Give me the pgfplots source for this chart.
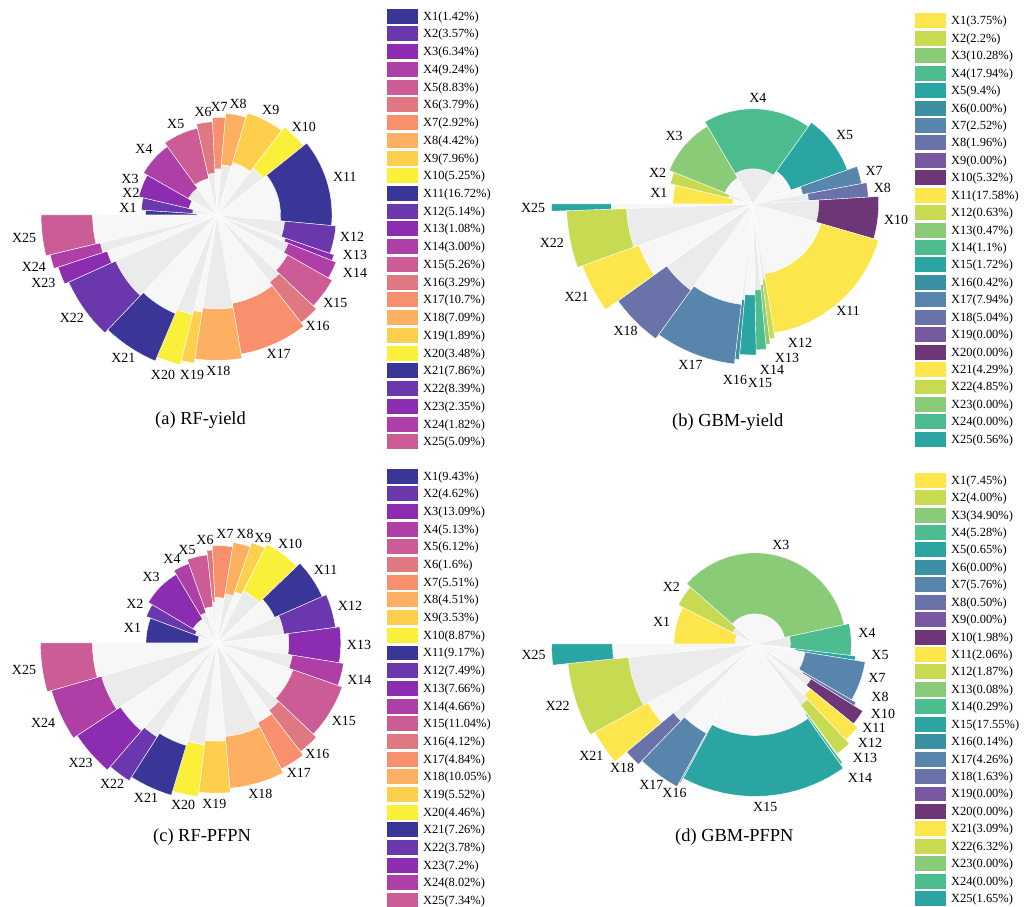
\documentclass[border=0pt]{standalone}
\usepackage{fontspec}
\setmainfont{Liberation Serif}
\usepackage{pgfplots}
\usepackage{pgfplotstable}
\pgfplotsset{compat=1.18}

% plasma-like palette (RF models)
\definecolor{rf0}{HTML}{3A3698}
\definecolor{rf1}{HTML}{6B37AD}
\definecolor{rf2}{HTML}{8C2DB1}
\definecolor{rf3}{HTML}{AE3FA6}
\definecolor{rf4}{HTML}{CB5C95}
\definecolor{rf5}{HTML}{E07882}
\definecolor{rf6}{HTML}{F88F6D}
\definecolor{rf7}{HTML}{FDB061}
\definecolor{rf8}{HTML}{FECF4C}
\definecolor{rf9}{HTML}{FAF03A}
% viridis-like palette (GBM models)
\definecolor{gb0}{HTML}{FDE64B}
\definecolor{gb1}{HTML}{C7DA51}
\definecolor{gb2}{HTML}{89CB77}
\definecolor{gb3}{HTML}{4DBC8E}
\definecolor{gb4}{HTML}{2AA5A1}
\definecolor{gb5}{HTML}{3B90A4}
\definecolor{gb6}{HTML}{5785AB}
\definecolor{gb7}{HTML}{6A72AA}
\definecolor{gb8}{HTML}{7758A1}
\definecolor{gb9}{HTML}{6E3677}
\definecolor{wedgeodd}{HTML}{F7F7F7}
\definecolor{wedgeeven}{HTML}{EBEBEB}

% relative importance (%) of X1 ... X25;
% lx, ly: label position for crowded segments (auto = outside the segment)
\pgfplotstableread{
val lx ly
1.42 -89 7
3.57 -86 22
6.34 -87 36
9.24 auto auto
8.83 auto auto
3.79 auto auto
2.92 auto auto
4.42 auto auto
7.96 auto auto
5.25 auto auto
16.72 auto auto
5.14 135 -22
1.08 138 -40
3.00 138 -58
5.26 auto auto
3.29 auto auto
10.7 auto auto
7.09 auto auto
1.89 -25 -160
3.48 -54 -160
7.86 auto auto
8.39 auto auto
2.35 auto auto
1.82 auto auto
5.09 auto auto
}\rfyield
\pgfplotstableread{
val lx ly
3.75 auto auto
2.2 auto auto
10.28 auto auto
17.94 auto auto
9.4 auto auto
0.00 auto auto
2.52 auto auto
1.96 auto auto
0.00 auto auto
5.32 auto auto
17.58 auto auto
0.63 47 -139
0.47 34 -154
1.1 19 -166
1.72 7 -179
0.42 -18 -176
7.94 auto auto
5.04 auto auto
0.00 auto auto
0.00 auto auto
4.29 auto auto
4.85 auto auto
0.00 auto auto
0.00 auto auto
0.56 auto auto
}\gbmyield
\pgfplotstableread{
val lx ly
9.43 auto auto
4.62 auto auto
13.09 auto auto
5.13 -45 84
6.12 -30 93
1.6 -12 103
5.51 8 109
4.51 28 109
3.53 46 105
8.87 auto auto
9.17 auto auto
7.49 auto auto
7.66 auto auto
4.66 auto auto
11.04 auto auto
4.12 auto auto
4.84 auto auto
10.05 auto auto
5.52 auto auto
4.46 auto auto
7.26 auto auto
3.78 auto auto
7.2 auto auto
8.02 auto auto
7.34 auto auto
}\rfpfpn
\pgfplotstableread{
val lx ly
7.45 auto auto
4.00 auto auto
34.90 auto auto
5.28 112 11
0.65 125 -11
0.00 auto auto
5.76 122 -34
0.50 125 -53
0.00 auto auto
1.98 128 -70
2.06 119 -84
1.87 115 -99
0.08 110 -114
0.29 105 -134
17.55 auto auto
0.14 auto auto
4.26 auto auto
1.63 auto auto
0.00 auto auto
0.00 auto auto
3.09 auto auto
6.32 auto auto
0.00 auto auto
0.00 auto auto
1.65 auto auto
}\gbmpfpn

% annular sector: #2,#3 start/end angle, #4 inner radius, #5 outer radius
\newcommand\sector[5][]{%
  \addplot[draw=white, line width=0.4pt, #1]
  ({((((\t<20.5)||(\t>41.5)) ? (#5) : (#4)))*cos(((\t<20.5) ? ((#2)+((#3)-(#2))*\t/20) : ((\t<41.5) ? ((#3)-((#3)-(#2))*(\t-21)/20) : (#2))))},
   {((((\t<20.5)||(\t>41.5)) ? (#5) : (#4)))*sin(((\t<20.5) ? ((#2)+((#3)-(#2))*\t/20) : ((\t<41.5) ? ((#3)-((#3)-(#2))*(\t-21)/20) : (#2))))});
}

\def\autostr{auto}
% spiral rose: #1 table, #2 palette, #3 base radius, #4 radial step, #5 bar length
\newcommand\rose[5]{%
  \pgfplotstablegetrowsof{#1}\edef\nrows{\pgfplotsretval}%
  \gdef\tot{0}%
  \pgfplotsforeachungrouped \i in {1,...,\nrows}{%
    \pgfmathtruncatemacro\row{\i-1}%
    \pgfplotstablegetelem{\row}{val}\of{#1}%
    \pgfmathparse{\tot+\pgfplotsretval}\xdef\tot{\pgfmathresult}%
  }%
  \gdef\cum{0}%
  \pgfplotsforeachungrouped \i in {1,...,\nrows}{%
    \pgfmathtruncatemacro\row{\i-1}%
    \pgfplotstablegetelem{\row}{val}\of{#1}\edef\val{\pgfplotsretval}%
    \pgfplotstablegetelem{\row}{lx}\of{#1}\edef\lxv{\pgfplotsretval}%
    \pgfplotstablegetelem{\row}{ly}\of{#1}\edef\lyv{\pgfplotsretval}%
    \pgfmathsetmacro\tA{180-360*(\cum/\tot)}%
    \pgfmathparse{\cum+\val}\xdef\cum{\pgfmathresult}%
    \pgfmathsetmacro\tB{180-360*(\cum/\tot)}%
    \pgfmathsetmacro\ri{#3+\row*#4}%
    \pgfmathsetmacro\ro{\ri+#5}%
    \pgfmathtruncatemacro\ci{mod(\row,10)}%
    \pgfmathtruncatemacro\gi{mod(\i,2)}%
    \pgfmathparse{\val>0 ? 1 : 0}%
    \ifdim\pgfmathresult pt>0.5pt
      \edef\tmp{\noexpand\sector[fill=\ifnum\gi=0 wedgeeven\else wedgeodd\fi, forget plot]{\tA}{\tB}{0}{\ri}}\tmp
      \edef\tmp{\noexpand\sector[fill=#2\ci]{\tA}{\tB}{\ri}{\ro}}\tmp
      \ifx\lxv\autostr
        \pgfmathsetmacro\tm{(\tA+\tB)/2}%
        \pgfmathsetmacro\lx{(\ro+5)*cos(\tm)}%
        \pgfmathsetmacro\ly{(\ro+5)*sin(\tm)}%
        \pgfmathsetmacro\an{\tm+180}%
        \edef\tmp{\noexpand\node[seglabel, anchor=\an] at (axis cs:\lx,\ly) {X\i};}\tmp
      \else
        \edef\tmp{\noexpand\node[seglabel, anchor=center] at (axis cs:\lxv,\lyv) {X\i};}\tmp
      \fi
    \else
      \edef\tmp{\noexpand\addlegendimage{fill=#2\ci}}\tmp
    \fi
    \edef\tmp{\noexpand\addlegendentry{X\i(\val\noexpand\%)}}\tmp
  }%
}

\pgfplotsset{
  rosebase/.style={
    width=400bp, height=400bp, scale only axis,
    xmin=-200, xmax=200, ymin=-200, ymax=200,
    hide axis, clip=false, anchor=center,
    samples at={0,...,42}, variable=\t,
    legend cell align=left,
    legend image code/.code={\fill[##1, draw=none] (0pt,-7.5pt) rectangle (31pt,7.5pt);},
    legend style={draw=none, fill=none, inner sep=0pt, anchor=north west, column sep=5pt,
      font=\fontsize{12.5}{14}\selectfont,
      nodes={inner sep=0pt, text height=11.5pt, text depth=3.5pt}},
  },
}
\tikzset{
  seglabel/.style={font=\fontsize{14}{16}\selectfont, inner sep=1pt},
  paneltitle/.style={font=\fontsize{18.5}{22}\selectfont, anchor=west, inner sep=0pt},
}

\begin{document}
\begin{tikzpicture}
\useasboundingbox (0,0) rectangle (1028bp,907bp);

\begin{axis}[rosebase, at={(217bp,692bp)},
  legend style={at={(0.925,1.01625)}, row sep=2.8pt}]
  \rose{\rfyield}{rf}{20}{4.35}{51.5}
  \node[paneltitle] at (axis cs:-62,-205) {(a) RF-yield};
\end{axis}

\begin{axis}[rosebase, at={(753bp,703bp)},
  legend style={at={(0.905,0.977)}, row sep=2.5pt}]
  \rose{\gbmyield}{gb}{20}{5.07}{60}
  \node[paneltitle] at (axis cs:-81,-218) {(b) GBM-yield};
\end{axis}

\begin{axis}[rosebase, at={(217bp,264bp)},
  legend style={at={(0.925,0.93625)}, row sep=2.75pt}]
  \rose{\rfpfpn}{rf}{19}{4.4}{52}
  \node[paneltitle] at (axis cs:-64,-194) {(c) RF-PFPN};
\end{axis}

\begin{axis}[rosebase, at={(755bp,263bp)},
  legend style={at={(0.9,0.92875)}, row sep=2.5pt}]
  \rose{\gbmpfpn}{gb}{20}{5.1}{61}
  \node[paneltitle] at (axis cs:-80,-193) {(d) GBM-PFPN};
\end{axis}
\end{tikzpicture}
\end{document}
